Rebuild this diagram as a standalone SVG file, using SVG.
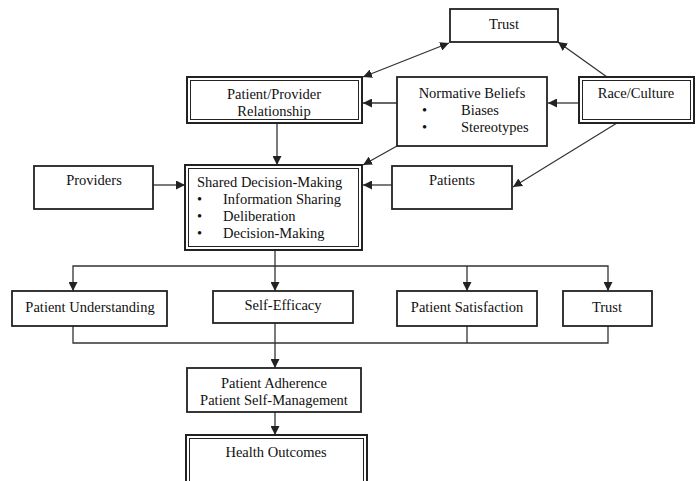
<svg xmlns="http://www.w3.org/2000/svg" width="697" height="481" viewBox="0 0 697 481">
<style>
  .box{fill:#fff;stroke:#222;stroke-width:1.8}
  .outer{fill:#fff;stroke:#222;stroke-width:2}
  .inner{fill:none;stroke:#222;stroke-width:1}
  text{font-family:"Liberation Serif","Times New Roman",serif;font-size:14.5px;fill:#111}
  .c{text-anchor:middle}
  .ln{fill:none;stroke:#333;stroke-width:1.3}
</style>
<defs>
  <marker id="ah" viewBox="0 0 10 10" refX="10" refY="5" markerWidth="9" markerHeight="9" markerUnits="userSpaceOnUse" orient="auto-start-reverse">
    <path d="M0,0 L10,5 L0,10 z" fill="#222"/>
  </marker>
</defs>
<rect width="697" height="481" fill="#fff"/>

<g id="connectors">
  <line class="ln" x1="449" y1="43" x2="363" y2="77" marker-start="url(#ah)" marker-end="url(#ah)"/>
  <line class="ln" x1="607" y1="77" x2="558" y2="42" marker-end="url(#ah)"/>
  <line class="ln" x1="397" y1="103" x2="363" y2="103" marker-end="url(#ah)"/>
  <line class="ln" x1="579" y1="103" x2="548" y2="103" marker-end="url(#ah)"/>
  <line class="ln" x1="277" y1="123" x2="277" y2="165" marker-end="url(#ah)"/>
  <line class="ln" x1="397" y1="146" x2="363" y2="165" marker-end="url(#ah)"/>
  <line class="ln" x1="617" y1="123" x2="513" y2="187" marker-end="url(#ah)"/>
  <line class="ln" x1="153" y1="185" x2="185" y2="185" marker-end="url(#ah)"/>
  <line class="ln" x1="392" y1="185" x2="363" y2="185" marker-end="url(#ah)"/>
  <line class="ln" x1="275" y1="250" x2="275" y2="291" marker-end="url(#ah)"/>
  <polyline class="ln" points="73,291 73,266 608,266 608,291" marker-start="url(#ah)" marker-end="url(#ah)"/>
  <line class="ln" x1="467" y1="266" x2="467" y2="291" marker-end="url(#ah)"/>
  <polyline class="ln" points="73,326 73,343 608,343 608,326"/>
  <line class="ln" x1="275" y1="323" x2="275" y2="368" marker-end="url(#ah)"/>
  <line class="ln" x1="467" y1="326" x2="467" y2="343"/>
  <line class="ln" x1="275" y1="412" x2="275" y2="435" marker-end="url(#ah)"/>
</g>

<g id="trust-top">
  <rect class="box" x="450" y="9" width="108" height="33"/>
  <text class="c" x="504" y="29">Trust</text>
</g>
<g id="ppr">
  <rect class="outer" x="187" y="77" width="175" height="46"/>
  <rect class="inner" x="190.5" y="80.5" width="168" height="39"/>
  <text class="c" x="274" y="99">Patient/Provider</text>
  <text class="c" x="274" y="116">Relationship</text>
</g>
<g id="normative">
  <rect class="box" x="397" y="77" width="150" height="69"/>
  <text class="c" x="472" y="98">Normative Beliefs</text>
  <text x="422" y="115">•<tspan x="461">Biases</tspan></text>
  <text x="422" y="132">•<tspan x="461">Stereotypes</tspan></text>
</g>
<g id="race">
  <rect class="outer" x="579" y="77" width="115" height="46"/>
  <rect class="inner" x="582.5" y="80.5" width="108" height="39"/>
  <text class="c" x="636" y="98">Race/Culture</text>
</g>
<g id="providers">
  <rect class="box" x="34" y="166" width="119" height="43"/>
  <text class="c" x="94" y="185">Providers</text>
</g>
<g id="sdm">
  <rect class="outer" x="185" y="165" width="177" height="85"/>
  <rect class="inner" x="188.5" y="168.5" width="170" height="78"/>
  <text x="197" y="187">Shared Decision-Making</text>
  <text x="197" y="204">•<tspan x="223">Information Sharing</tspan></text>
  <text x="197" y="221">•<tspan x="223">Deliberation</tspan></text>
  <text x="197" y="238">•<tspan x="223">Decision-Making</tspan></text>
</g>
<g id="patients">
  <rect class="box" x="392" y="166" width="120" height="43"/>
  <text class="c" x="452" y="185">Patients</text>
</g>
<g id="understanding">
  <rect class="box" x="12" y="291" width="155" height="35"/>
  <text class="c" x="90" y="312">Patient Understanding</text>
</g>
<g id="efficacy">
  <rect class="box" x="213" y="291" width="140" height="32"/>
  <text class="c" x="283" y="310">Self-Efficacy</text>
</g>
<g id="satisfaction">
  <rect class="box" x="397" y="291" width="140" height="35"/>
  <text class="c" x="467" y="312">Patient Satisfaction</text>
</g>
<g id="trust-bottom">
  <rect class="box" x="563" y="291" width="89" height="35"/>
  <text class="c" x="607" y="312">Trust</text>
</g>
<g id="adherence">
  <rect class="box" x="187" y="368" width="174" height="44"/>
  <text class="c" x="274" y="388">Patient Adherence</text>
  <text class="c" x="274" y="405">Patient Self-Management</text>
</g>
<g id="outcomes">
  <rect class="outer" x="186" y="435" width="181" height="50"/>
  <rect class="inner" x="189.5" y="438.5" width="174" height="43"/>
  <text class="c" x="276" y="457">Health Outcomes</text>
</g>
</svg>
